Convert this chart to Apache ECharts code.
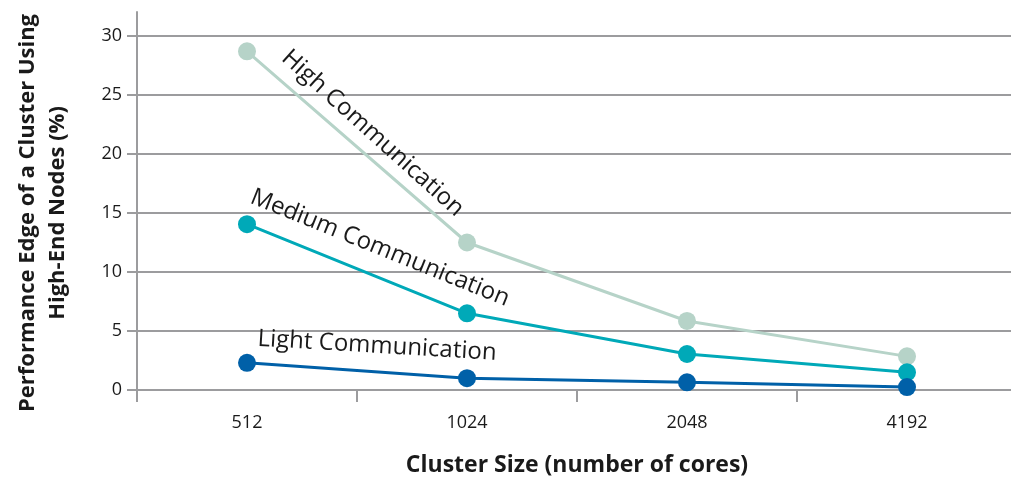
<!DOCTYPE html>
<html>
<head>
<meta charset="utf-8">
<script src="https://cdn.jsdelivr.net/npm/echarts@6/dist/echarts.min.js"></script>
<style>
  html, body { margin: 0; padding: 0; background: #fff; }
  #chart { width: 1011px; height: 478px; }
</style>
</head>
<body>
<div id="chart"></div>
<script>
// cluster sizes (number of cores)
var categories = ['512', '1024', '2048', '4192'];

// performance edge (%)
var highComm = [28.7, 12.5, 5.85, 2.85];
var mediumComm = [14.05, 6.5, 3.05, 1.5];
var lightComm = [2.3, 1.0, 0.65, 0.25];

var seriesNames = ['High Communication', 'Medium Communication', 'Light Communication'];
var seriesColors = ['#b6d3c8', '#00a9b8', '#0060a8'];

var gridColor = '#9c9c9e';
var font = '"Open Sans", "Noto Sans", sans-serif';

var chart = echarts.init(document.getElementById('chart'), null, { renderer: 'canvas' });

function lineSeries(name, data, color) {
    return {
        name: name,
        type: 'line',
        data: data,
        symbol: 'circle',
        symbolSize: 18,
        lineStyle: { color: color, width: 3 },
        itemStyle: { color: color },
        z: 3
    };
}

var option = {
    animation: false,
    grid: [
        { left: 137, width: 880, top: 36, bottom: 88, outerBoundsMode: 'none' },
        // just to carry the y axis line a little above 30
        { left: 137, width: 10, top: 12, height: 26, outerBoundsMode: 'none' }
    ],
    xAxis: [{
        type: 'category',
        data: categories,
        boundaryGap: true,
        axisLine: { lineStyle: { color: gridColor, width: 2 } },
        axisTick: { show: true, length: 12, lineStyle: { color: gridColor, width: 2 } },
        axisLabel: { color: '#1a1a1a', fontSize: 18, margin: 24, fontFamily: font },
        name: 'Cluster Size (number of cores)',
        nameLocation: 'middle',
        nameGap: 64,
        nameTextStyle: { color: '#1a1a1a', fontSize: 23, fontWeight: 'bold', fontFamily: font }
    }, {
        gridIndex: 1,
        type: 'value',
        show: false
    }],
    yAxis: [{
        type: 'value',
        min: 0,
        max: 30,
        interval: 5,
        axisLine: { show: true, lineStyle: { color: gridColor, width: 2 } },
        axisTick: { show: true, length: 10, lineStyle: { color: gridColor, width: 2 } },
        axisLabel: { color: '#1a1a1a', fontSize: 18, margin: 15, fontFamily: font },
        splitLine: { lineStyle: { color: gridColor, width: 2 } },
        name: 'Performance Edge of a Cluster Using\nHigh-End Nodes (%)',
        nameLocation: 'middle',
        nameGap: 64,
        nameTextStyle: { color: '#1a1a1a', fontSize: 22, fontWeight: 'bold', lineHeight: 30, fontFamily: font }
    }, {
        gridIndex: 1,
        type: 'value',
        axisLine: { show: true, lineStyle: { color: gridColor, width: 2 } },
        axisTick: { show: false },
        axisLabel: { show: false },
        splitLine: { show: false }
    }],
    series: [
        lineSeries(seriesNames[0], highComm, seriesColors[0]),
        lineSeries(seriesNames[1], mediumComm, seriesColors[1]),
        lineSeries(seriesNames[2], lightComm, seriesColors[2])
    ]
};

chart.setOption(option);

// series names written along each line, placed from the first point
var labelOffsets = [[30, 12], [0, -17], [10, -12]];
var labelAngles = [42, 22, 3.4];
var firstValues = [highComm[0], mediumComm[0], lightComm[0]];
var texts = seriesNames.map(function (name, i) {
    var p = chart.convertToPixel({ gridIndex: 0 }, [categories[0], firstValues[i]]);
    return {
        type: 'text',
        x: p[0] + labelOffsets[i][0],
        y: p[1] + labelOffsets[i][1],
        rotation: -labelAngles[i] * Math.PI / 180,
        z: 10,
        style: {
            text: name,
            fill: '#1a1a1a',
            font: '24px ' + font,
            textAlign: 'left',
            textVerticalAlign: 'bottom'
        }
    };
});
chart.setOption({ graphic: texts });

window.addEventListener('resize', function () {
    chart.resize();
});
</script>
</body>
</html>
